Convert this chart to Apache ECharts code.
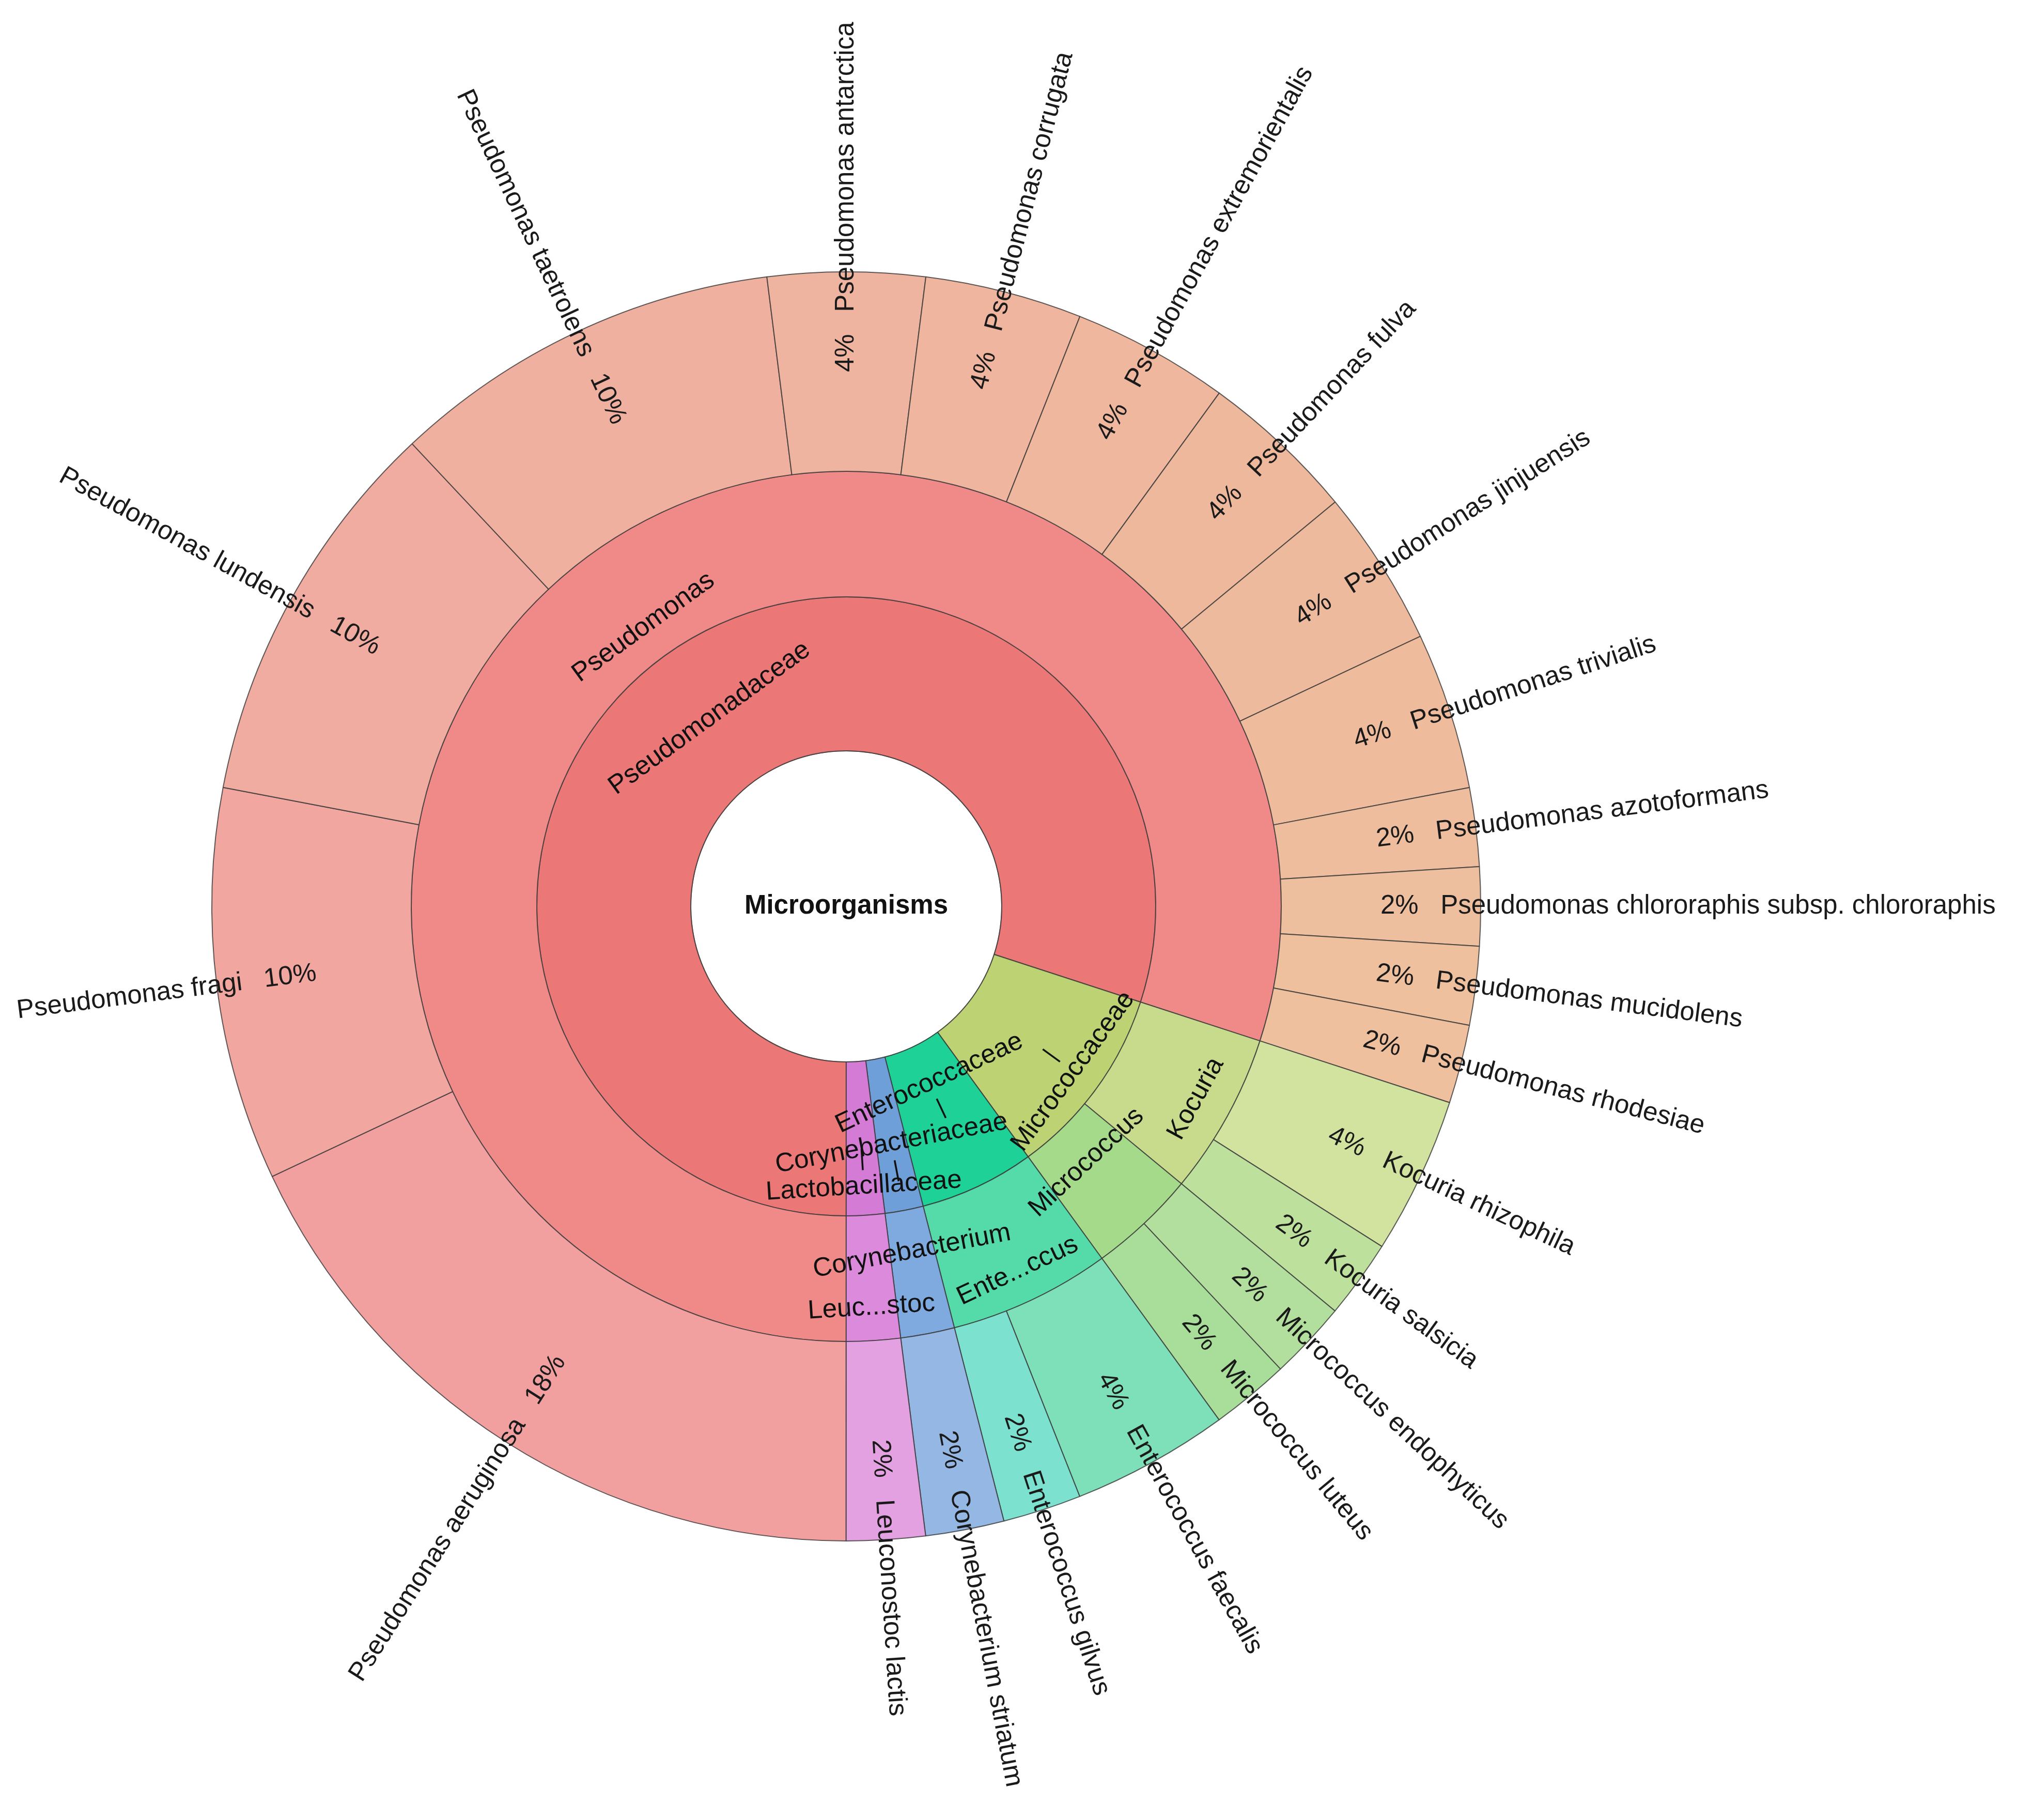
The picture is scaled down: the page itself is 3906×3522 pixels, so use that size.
<!DOCTYPE html>
<html>
<head>
<meta charset="utf-8">
<script src="https://cdn.jsdelivr.net/npm/echarts@6/dist/echarts.min.js"></script>
<style>
html,body{margin:0;padding:0;background:#ffffff;}
#chart{width:3906px;height:3522px;}
</style>
</head>
<body>
<div id="chart"></div>
<script>
// ---------------- data ----------------
const rootName = 'Microorganisms';
const familyNames = ['Pseudomonadaceae', 'Micrococcaceae', 'Enterococcaceae', 'Corynebacteriaceae', 'Lactobacillaceae'];
const genusNames = ['Pseudomonas', 'Kocuria', 'Micrococcus', 'Enterococcus', 'Corynebacterium', 'Leuconostoc'];
const genusFamily = ['Pseudomonadaceae', 'Micrococcaceae', 'Micrococcaceae', 'Enterococcaceae', 'Corynebacteriaceae', 'Lactobacillaceae'];
const genusShortLabels = ['Pseudomonas', 'Kocuria', 'Micrococcus', 'Ente...ccus', 'Corynebacterium', 'Leuc...stoc'];
const speciesNames = [
  'Pseudomonas aeruginosa', 'Pseudomonas fragi', 'Pseudomonas lundensis', 'Pseudomonas taetrolens',
  'Pseudomonas antarctica', 'Pseudomonas corrugata', 'Pseudomonas extremorientalis', 'Pseudomonas fulva',
  'Pseudomonas jinjuensis', 'Pseudomonas trivialis', 'Pseudomonas azotoformans',
  'Pseudomonas chlororaphis subsp. chlororaphis', 'Pseudomonas mucidolens', 'Pseudomonas rhodesiae',
  'Kocuria rhizophila', 'Kocuria salsicia', 'Micrococcus endophyticus', 'Micrococcus luteus',
  'Enterococcus faecalis', 'Enterococcus gilvus', 'Corynebacterium striatum', 'Leuconostoc lactis'
];
const speciesGenus = [
  'Pseudomonas', 'Pseudomonas', 'Pseudomonas', 'Pseudomonas', 'Pseudomonas', 'Pseudomonas', 'Pseudomonas',
  'Pseudomonas', 'Pseudomonas', 'Pseudomonas', 'Pseudomonas', 'Pseudomonas', 'Pseudomonas', 'Pseudomonas',
  'Kocuria', 'Kocuria', 'Micrococcus', 'Micrococcus', 'Enterococcus', 'Enterococcus', 'Corynebacterium', 'Leuconostoc'
];
const speciesCounts = [9, 5, 5, 5, 2, 2, 2, 2, 2, 2, 1, 1, 1, 1, 2, 1, 1, 1, 2, 1, 1, 1];

// ---------------- styles ----------------
const nodeColors = {
  'Pseudomonadaceae': '#EB7877', 'Micrococcaceae': '#BCD273', 'Enterococcaceae': '#1ED197',
  'Corynebacteriaceae': '#6E9FD8', 'Lactobacillaceae': '#D47BD6',
  'Pseudomonas': '#EF8A89', 'Kocuria': '#C8DB8D', 'Micrococcus': '#A5DA8B', 'Enterococcus': '#55DAA9',
  'Corynebacterium': '#7FAADF', 'Leuconostoc': '#DC8ADC',
  'Pseudomonas aeruginosa': '#F19F9F', 'Pseudomonas fragi': '#F1A6A0', 'Pseudomonas lundensis': '#F0ACA0',
  'Pseudomonas taetrolens': '#F0B0A0', 'Pseudomonas antarctica': '#EFB4A0', 'Pseudomonas corrugata': '#EFB59F',
  'Pseudomonas extremorientalis': '#EEB79E', 'Pseudomonas fulva': '#EEB89D', 'Pseudomonas jinjuensis': '#EEBA9D',
  'Pseudomonas trivialis': '#EEBC9D', 'Pseudomonas azotoformans': '#EEBD9E',
  'Pseudomonas chlororaphis subsp. chlororaphis': '#EEBF9E', 'Pseudomonas mucidolens': '#EEC09E',
  'Pseudomonas rhodesiae': '#EEC09E',
  'Kocuria rhizophila': '#D2E3A0', 'Kocuria salsicia': '#BDE09C', 'Micrococcus endophyticus': '#B2DF9D',
  'Micrococcus luteus': '#A8DE9A', 'Enterococcus faecalis': '#7EE0B9', 'Enterococcus gilvus': '#7CE2CF',
  'Corynebacterium striatum': '#94B8E3', 'Leuconostoc lactis': '#E4A1E1'
};
// label layout for inner rings: extra lines ('|' marks) and shift of the name line along the text's vertical axis (px)
const innerLabelLayout = {
  'Microorganisms': { before: [], after: [], shift: 150, bold: true },
  'Pseudomonadaceae': { before: [], after: [], shift: 0 },
  'Micrococcaceae': { before: ['|'], after: [], shift: 93 },
  'Enterococcaceae': { before: [], after: ['|'], shift: -72 },
  'Corynebacteriaceae': { before: [], after: ['|'], shift: 17 },
  'Lactobacillaceae': { before: ['|'], after: [], shift: 93 },
  'Pseudomonas': { before: [], after: [], shift: 53 },
  'Kocuria': { before: [], after: [], shift: 52 },
  'Micrococcus': { before: [], after: [], shift: -41 },
  'Enterococcus': { before: [], after: [], shift: 59 },
  'Corynebacterium': { before: [], after: [], shift: -41 },
  'Leuconostoc': { before: [], after: [], shift: 57 }
};
const LINE_H = 56, BAR_H = 50;

function innerLabel(key, text) {
  const lay = innerLabelLayout[key];
  const lines = [];
  lay.before.forEach(b => lines.push({ s: 'bar', t: b, h: BAR_H }));
  const target = lines.length;
  lines.push({ s: lay.bold ? 'b' : 't', t: text, h: LINE_H });
  lay.after.forEach(b => lines.push({ s: 'bar', t: b, h: BAR_H }));
  const H = lines.reduce((a, l) => a + l.h, 0);
  let c = 0;
  for (let i = 0; i < target; i++) c += lines[i].h;
  const off0 = c + LINE_H / 2 - H / 2;
  const delta = lay.shift - off0;
  const rich = {
    t: { fontSize: 51, lineHeight: LINE_H },
    b: { fontSize: 51, lineHeight: LINE_H, fontWeight: 'bold' },
    bar: { fontSize: 44, lineHeight: BAR_H },
    g: { fontSize: 2, lineHeight: Math.max(2, Math.abs(2 * delta)) }
  };
  const parts = lines.map(l => '{' + l.s + '|' + l.t + '}');
  if (delta > 0.5) parts.unshift('{g| }');
  else if (delta < -0.5) parts.push('{g| }');
  return { formatter: parts.join('\n'), rich: rich };
}

// ---------------- build tree ----------------
const total = speciesCounts.reduce((a, b) => a + b, 0);
let cum = 0;
const speciesNodes = speciesNames.map((name, i) => {
  const v = speciesCounts[i];
  const mid = (cum + v / 2) / total;
  cum += v;
  const pct = Math.round(100 * v / total) + '%';
  const leftSide = mid < 0.5;
  return {
    name: name,
    value: v,
    genus: speciesGenus[i],
    itemStyle: { color: nodeColors[name] },
    label: { formatter: leftSide ? (name + '   ' + pct) : (pct + '   ' + name) }
  };
});
const genusNodes = genusNames.map((g, i) => ({
  name: g,
  family: genusFamily[i],
  itemStyle: { color: nodeColors[g] },
  label: innerLabel(g, genusShortLabels[i]),
  children: speciesNodes.filter(s => s.genus === g)
}));
const familyNodes = familyNames.map(f => ({
  name: f,
  itemStyle: { color: nodeColors[f] },
  label: innerLabel(f, f),
  children: genusNodes.filter(g => g.family === f)
}));
const treeData = [{
  name: rootName,
  itemStyle: { color: '#ffffff' },
  label: Object.assign({ rotate: 0 }, innerLabel(rootName, rootName)),
  children: familyNodes
}];

// ---------------- chart ----------------
const chart = echarts.init(document.getElementById('chart'), null, { renderer: 'canvas' });
const baseFont = { fontFamily: 'Liberation Sans, Arial, sans-serif', fontSize: 51, color: '#111111' };
chart.setOption({
  backgroundColor: '#ffffff',
  animation: false,
  series: [{
    type: 'sunburst',
    center: [1638, 1754],
    startAngle: -90.01,
    clockwise: true,
    sort: null,
    nodeClick: false,
    emphasis: { disabled: true },
    itemStyle: { borderColor: 'rgba(55,55,55,0.8)', borderWidth: 2 },
    label: Object.assign({ rotate: 'tangential', align: 'center' }, baseFont),
    data: treeData,
    levels: [
      {},
      { r0: 0, r: 301, label: Object.assign({ rotate: 0 }, baseFont) },
      { r0: 301, r: 599, label: Object.assign({ rotate: 'tangential', align: 'center' }, baseFont) },
      { r0: 599, r: 842, label: Object.assign({ rotate: 'tangential', align: 'center' }, baseFont) },
      { r0: 842, r: 1228, label: Object.assign({ rotate: 'radial', align: 'left', distance: 192 }, baseFont, { color: '#1a1a1a' }) }
    ]
  }]
});
</script>
</body>
</html>
